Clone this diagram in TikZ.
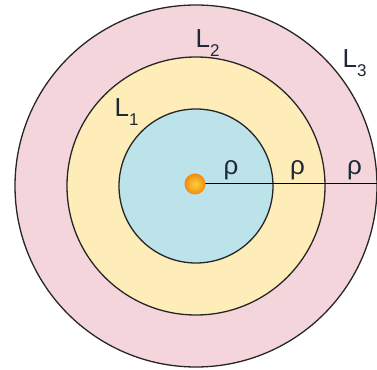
\documentclass[tikz,border=0pt]{standalone}
\usepackage{fontspec}
\setmainfont{Liberation Sans}
\newfontfamily\labfont{Liberation Sans}
\usetikzlibrary{shadings}
\definecolor{cblue}{HTML}{BCE2EA}
\definecolor{cyellow}{HTML}{FEEDB9}
\definecolor{cpink}{HTML}{F5D5DC}
\definecolor{ctext}{HTML}{1E2838}
\definecolor{dotout}{HTML}{F08A10}
\definecolor{dotin}{HTML}{FFD23A}
\newcommand{\mysub}[1]{\raisebox{-9pt}{\fontsize{17}{18}\selectfont #1}}
\tikzset{
  ring/.style={draw=black!85, line width=1.3pt},
  lab/.style={text=ctext, font=\labfont\fontsize{26}{28}\selectfont, inner sep=0pt, anchor=base west},
  rho/.style={text=ctext, font=\labfont\fontsize{26}{28}\selectfont, inner sep=0pt, anchor=base},
}
\begin{document}
\begin{tikzpicture}[x=1pt,y=1pt]
\useasboundingbox (0,0) rectangle (377,369);
\clip (0,0) rectangle (377,369);
\coordinate (c) at (196,183);
\fill[white] (0,0) rectangle (377,369);
\filldraw[ring, fill=cpink] (c) circle (181);
\filldraw[ring, fill=cyellow] (c) circle (129);
\filldraw[ring, fill=cblue] (c) circle (77);
\coordinate (o) at (195,185);
\coordinate (e) at (380,185);
\draw[line width=1pt, black] (o) -- (e);
\shade[inner color=dotin, outer color=dotout] (o) circle (10.5);
\node[rho] (r1) at (231,194) {ρ};
\node[rho] (r2) at (297.5,194) {ρ};
\node[rho] (r3) at (354.5,194) {ρ};
\node[lab] (l1) at (114.5,252) {L\mysub{1}};
\node[lab] (l2) at (195.5,321) {L\mysub{2}};
\node[lab] (l3) at (342.5,301) {L\mysub{3}};
\end{tikzpicture}
\end{document}
